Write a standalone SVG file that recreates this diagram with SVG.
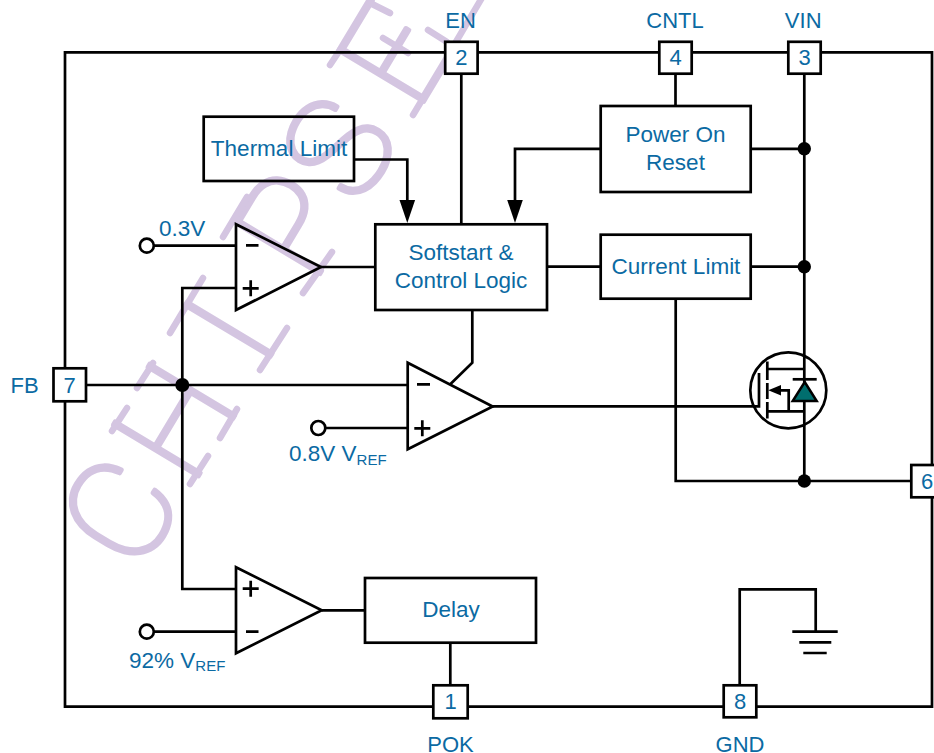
<svg xmlns="http://www.w3.org/2000/svg" width="934" height="753" viewBox="0 0 934 753">
<style>
text{font-family:"Liberation Sans",Arial,sans-serif;font-size:22.5px;fill:#0b6aa3}
.m{text-anchor:middle}
.w{font-family:Roboto,"Liberation Sans",sans-serif;font-weight:100;font-size:140px;fill:#d4c5e1;stroke:#d4c5e1;stroke-width:4.5;stroke-linejoin:round;stroke-linecap:round}
.ws{fill:none;stroke:#d4c5e1;stroke-width:6.5;stroke-linecap:round}
.pl{font-size:22px}
.b{fill:none;stroke:#000;stroke-width:2.7;stroke-linejoin:miter}
.p{fill:#fff;stroke:#000;stroke-width:2.7}
.l{fill:none;stroke:#000;stroke-width:2.7}
.t{fill:none;stroke:#000;stroke-width:2.7}
.d{fill:#000;stroke:none}
.a{fill:#000;stroke:none}
.s{font-size:15px}
</style>
<rect width="934" height="753" fill="#fff"/>
<g id="watermark">
<text class="w" transform="translate(138 577) rotate(-59)" x="2 104 241 340 430 541" y="0">CHIPSE</text>
<path class="ws" d="M190 484L208 456M220 438L237 409M112 431L127 408M137 388L153 363M170 333L203 278M260 370L287 328M303 293L332 252M223 237L247 197M330 65L340 50M413 115L422 100M383 38L408 53M370 3L390 13M428 30L447 42M450 52L483 -4"/>
</g>
<g id="connectors">
<path class="l" d="M65 52.3H932V706.7H65Z"/>
<path class="l" d="M354 159.5H407.3V202"/>
<polygon class="a" points="399.5,200 415.1,200 407.3,223"/>
<path class="l" d="M461.3 73.7V224.3"/>
<path class="l" d="M675.5 73.7V106"/>
<path class="l" d="M804.3 73.7V481"/>
<path class="l" d="M600.7 148.8H515V202"/>
<polygon class="a" points="507.2,200 522.8,200 515,223"/>
<path class="l" d="M750.7 148.8H804.3"/>
<path class="l" d="M547 266.7H600.7"/>
<path class="l" d="M750.7 266.7H804.3"/>
<path class="l" d="M321 267H375.3"/>
<path class="l" d="M146 245.7H236"/>
<path class="l" d="M236 288H182.3V589H236"/>
<path class="l" d="M86 385H407.7"/>
<path class="l" d="M472.3 310V362.7L450 384.5"/>
<path class="l" d="M492.7 406.4H759V373"/>
<path class="l" d="M318 428H407.7"/>
<path class="l" d="M146 631.7H236"/>
<path class="l" d="M321.7 610.3H365"/>
<path class="l" d="M450.3 642.7V685"/>
<path class="l" d="M675.7 298.7V481H911.3"/>
<path class="l" d="M739.7 685V589.3H815.7V631.7"/>
<circle class="d" cx="804.3" cy="148.8" r="6.7"/>
<circle class="d" cx="804.3" cy="266.7" r="6.7"/>
<circle class="d" cx="804.3" cy="481" r="6.7"/>
<circle class="d" cx="182.3" cy="385" r="7"/>
</g>
<g id="thermal-limit"><rect class="b" x="203.7" y="116.7" width="150.3" height="64.3"/><text class="m" x="279" y="155.7">Thermal Limit</text></g>
<g id="softstart"><rect class="b" x="375.3" y="224.3" width="171.7" height="85.7"/><text class="m" x="461" y="260">Softstart &amp;</text><text class="m" x="461" y="287.5">Control Logic</text></g>
<g id="power-on-reset"><rect class="b" x="600.7" y="106" width="150" height="86"/><text class="m" x="675.5" y="141.7">Power On</text><text class="m" x="675.5" y="170">Reset</text></g>
<g id="current-limit"><rect class="b" x="600.7" y="234.7" width="150" height="64"/><text class="m" x="676" y="274">Current Limit</text></g>
<g id="delay"><rect class="b" x="365" y="578" width="171" height="64.7"/><text class="m" x="451" y="616.7">Delay</text></g>
<g id="amp-1"><polygon class="b" points="236,224.3 321,267 236,310"/><path class="l" d="M246 245.3H258.5M242.7 288.3H258.7M250.7 280.3V296.3"/><circle class="p" cx="146.8" cy="245.7" r="7"/><text x="159" y="235.7">0.3V</text></g>
<g id="amp-2"><polygon class="b" points="407.7,362.7 492.7,406.5 407.7,449.3"/><path class="l" d="M417 384.3H430M414.3 428.3H430.3M422.3 420.3V436.3"/><circle class="p" cx="318.3" cy="428" r="7"/><text x="289" y="461">0.8V V<tspan class="s" dy="4">REF</tspan></text></g>
<g id="amp-3"><polygon class="b" points="236,567.3 321.7,610.3 236,653.3"/><path class="l" d="M246 631.7H258.5M242.7 588.7H258.7M250.7 580.7V596.7"/><circle class="p" cx="146.8" cy="631.7" r="7"/><text x="129" y="667.7">92% V<tspan class="s" dy="3">REF</tspan></text></g>
<g id="mosfet">
<circle class="t" cx="788.3" cy="390.3" r="38"/>
<path class="t" d="M767.3 361.5V380M767.3 383V399M767.3 402V418.5M767.3 369H804.3M767.3 411.3H804.3M788.7 411.3V390.3H778"/>
<polygon class="a" points="768.3,390.3 781,385 781,395.6"/>
<polygon points="804.7,382 816.7,401 792.7,401" fill="#006e6e" stroke="#000" stroke-width="2.5"/>
<path class="t" d="M792.7 379.3H816.7"/>
</g>
<g id="ground"><path class="l" d="M792.3 631.7H837.7M799.3 642.3H831.3M803.3 653H826.7"/></g>
<g id="pin-2"><rect class="p" x="445.2" y="41.8" width="32.4" height="31.9"/><text class="m pl" x="461.3" y="65">2</text><text class="m pl" x="460.5" y="27.5">EN</text></g>
<g id="pin-4"><rect class="p" x="659.3" y="41.8" width="32.4" height="31.9"/><text class="m pl" x="675.5" y="65">4</text><text class="m pl" x="675" y="28">CNTL</text></g>
<g id="pin-3"><rect class="p" x="788.3" y="41.8" width="32.4" height="31.9"/><text class="m pl" x="804.5" y="65">3</text><text class="m pl" x="803.2" y="28">VIN</text></g>
<g id="pin-7"><rect class="p" x="53.5" y="368.3" width="32.5" height="33"/><text class="m pl" x="69.7" y="392.5">7</text><text class="pl" x="10.5" y="392.7">FB</text></g>
<g id="pin-6"><rect class="p" x="911.3" y="465" width="33" height="32.3"/><text class="m pl" x="927" y="488.5">6</text></g>
<g id="pin-1"><rect class="p" x="433.3" y="685.3" width="34.4" height="33"/><text class="m pl" x="450.5" y="708.5">1</text><text class="m pl" x="450.5" y="751.5">POK</text></g>
<g id="pin-8"><rect class="p" x="723.7" y="685.3" width="32.6" height="32"/><text class="m pl" x="740" y="708.5">8</text><text class="m pl" x="740" y="751.5">GND</text></g>
</svg>
